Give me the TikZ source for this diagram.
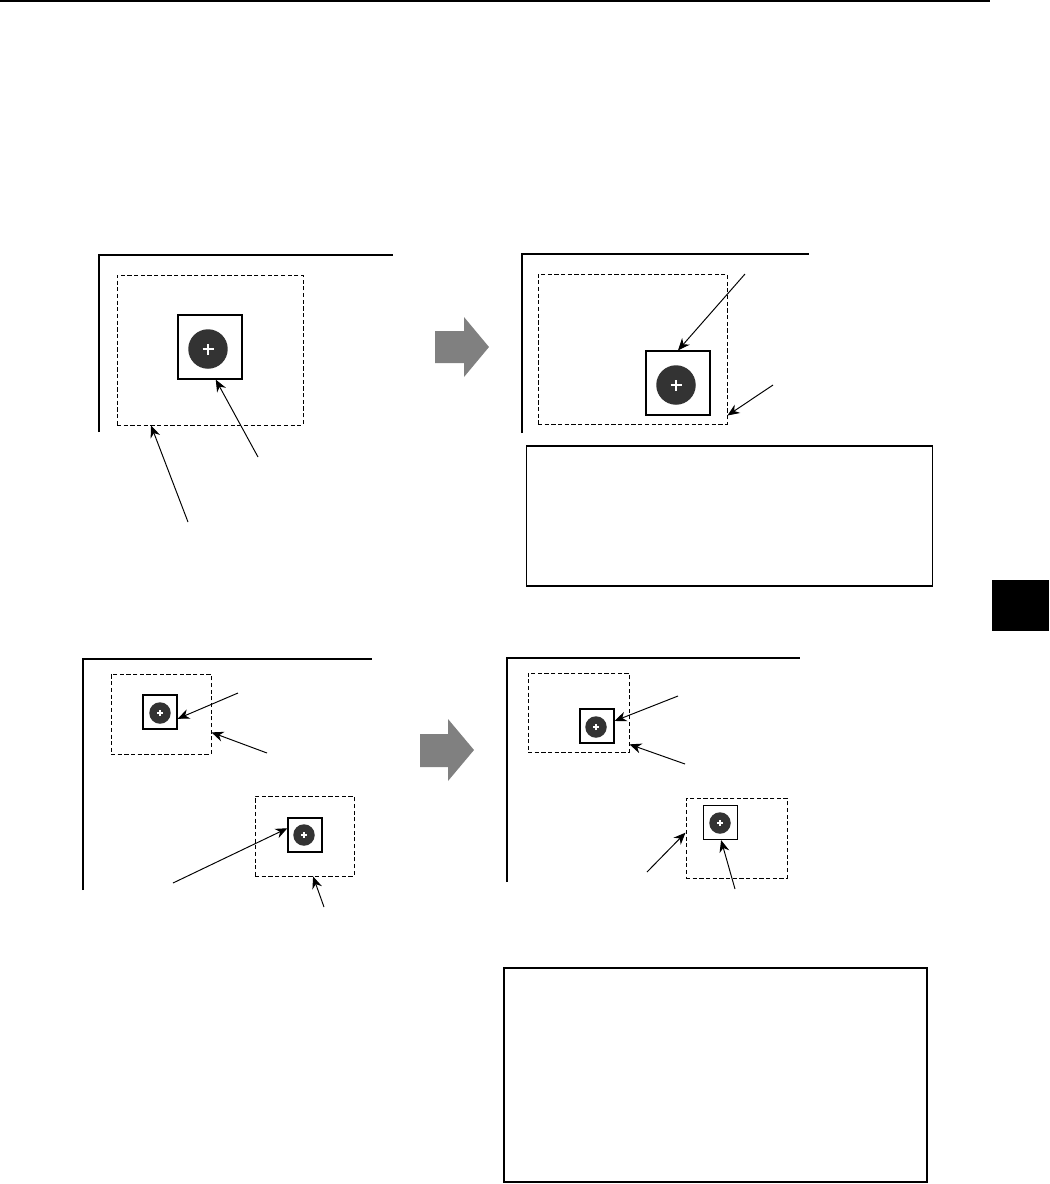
\documentclass[tikz,border=0pt]{standalone}
\usetikzlibrary{arrows.meta}
\definecolor{dotgray}{RGB}{51,51,51}
\definecolor{arrowgray}{RGB}{128,128,128}
\tikzset{
  frame/.style={line width=1.4pt},
  pinbig/.style={draw, line width=.7pt, minimum size=12.8mm, inner sep=0pt},
  pinsmall/.style={draw, line width=.7pt, minimum size=6.8mm, inner sep=0pt},
  area/.style={draw, line width=.55pt, dash pattern=on 2.4pt off 1.4pt, inner sep=0pt},
  dot/.style 2 args={circle, fill=dotgray, inner sep=0pt, minimum size=#1,
    path picture={
      \draw[white, line width=.5mm]
        ([xshift=-#2]path picture bounding box.center) -- ([xshift=#2]path picture bounding box.center)
        ([yshift=-#2]path picture bounding box.center) -- ([yshift=#2]path picture bounding box.center);}},
  note/.style={draw, line width=.6pt, inner sep=0pt},
  ptr/.style={-{Stealth[length=2.4mm,width=2mm]}, line width=.55pt},
  blockarrow/.style={fill=arrowgray},
}

\begin{document}
\begin{tikzpicture}[x=0.02cm, y=-0.02cm]
  \useasboundingbox (0,0) rectangle (1049,1184);
  \draw[line width=1pt] (0,1) -- (990,1);
  \fill (992,580) rectangle (1049,631);

  % top left
  \draw[frame] (99,432) |- (393,255);
  \node[area, minimum width=37.2mm, minimum height=30mm] (d1) at (210,350) {};
  \node[pinbig] (sq1) at (210,347) {};
  \node[dot={7.9mm}{1.1mm}] (c1) at (208,349) {};
  \coordinate (t1) at (258,457);
  \coordinate (t2) at (188,522);
  \draw[ptr] (t1) -- (sq1.-80);
  \draw[ptr] (t2) -- (d1.-128);

  \fill[blockarrow] (435,331) -- (464,331) -- (464,317) -- (489,347)
    -- (464,377) -- (464,363) -- (435,363) -- cycle;

  % top right
  \draw[frame] (522,433) |- (809,254);
  \node[area, minimum width=37.8mm, minimum height=30mm] (d2) at (632.5,349) {};
  \node[pinbig] (sq2) at (678,383) {};
  \node[dot={7.9mm}{1.1mm}] (c2) at (676,385) {};
  \coordinate (t3) at (745,274);
  \coordinate (t4) at (773,385);
  \draw[ptr] (t3) -- (sq2.north);
  \draw[ptr] (t4) -- (d2.-35);
  \node[note, minimum width=81.4mm, minimum height=28mm] (tb1) at (729.5,516) {};

  % bottom left
  \draw[frame] (83,890) |- (372,659);
  \node[area, minimum width=20mm, minimum height=16mm] (dA) at (161,714) {};
  \node[pinsmall] (sqA) at (160,712) {};
  \node[dot={4.3mm}{.6mm}] (cA) at (160,713) {};
  \node[area, minimum width=19.8mm, minimum height=16mm] (dB) at (304.5,836) {};
  \node[pinsmall] (sqB) at (305,835) {};
  \node[dot={4.3mm}{.6mm}] (cB) at (304,835) {};
  \coordinate (t5) at (238,693);
  \coordinate (t6) at (267,753);
  \coordinate (t7) at (173,883);
  \coordinate (t8) at (324,907);
  \draw[ptr] (t5) -- (sqA.-21);
  \draw[ptr] (t6) -- (dA.-20);
  \draw[ptr] (t7) -- (sqB.159);
  \draw[ptr] (t8) -- (dB.-78);

  \fill[blockarrow] (420,734) -- (448,734) -- (448,719) -- (474,750)
    -- (448,781) -- (448,767) -- (420,767) -- cycle;

  % bottom right
  \draw[frame] (507,882) |- (800,658);
  \node[area, minimum width=20.2mm, minimum height=15.8mm] (dC) at (578.5,712.5) {};
  \node[pinsmall] (sqC) at (597,726) {};
  \node[dot={4.3mm}{.6mm}] (cC) at (596,727) {};
  \node[area, minimum width=20.2mm, minimum height=16mm] (dD) at (736.5,838) {};
  \node[pinsmall] (sqD) at (720.5,822.5) {};
  \node[dot={4.3mm}{.6mm}] (cD) at (720,823) {};
  \coordinate (t9) at (678,696);
  \coordinate (t10) at (685,764);
  \coordinate (t11) at (647,872);
  \coordinate (t12) at (735,889);
  \draw[ptr] (t9) -- (sqC.16);
  \draw[ptr] (t10) -- (dC.-32);
  \draw[ptr] (t11) -- (dD.174);
  \draw[ptr] (t12) -- (sqD.-88);
  \node[note, line width=1pt, minimum width=84.6mm, minimum height=42.8mm] (tb2) at (715.5,1075) {};
\end{tikzpicture}
\end{document}
